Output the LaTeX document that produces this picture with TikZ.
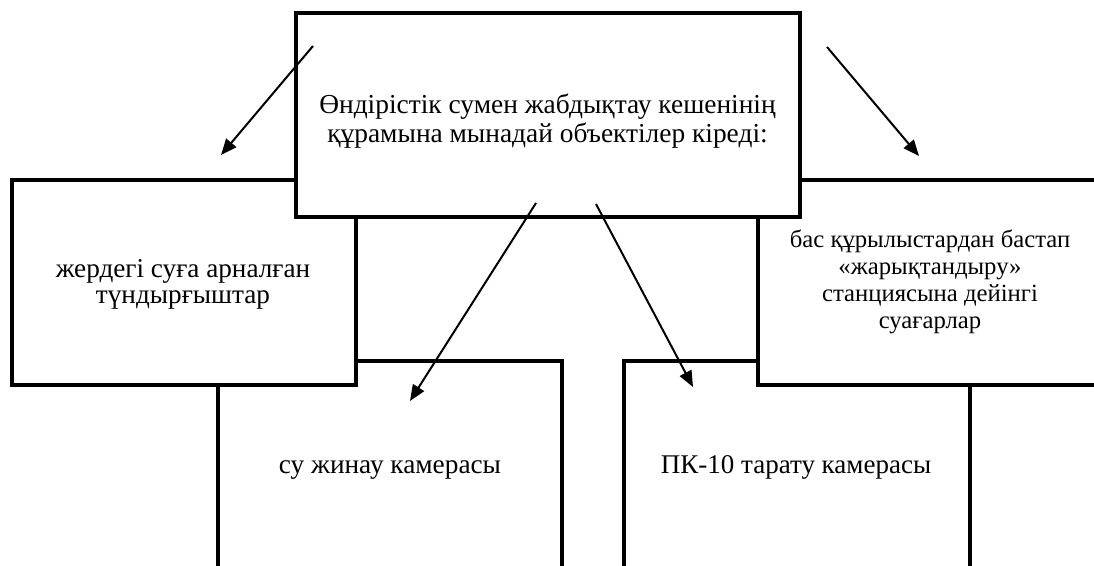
\documentclass[tikz,border=0pt]{standalone}
\usepackage{fontspec}
\setmainfont{Liberation Serif}
\usetikzlibrary{arrows.meta}
\newcommand{\linestack}[1]{\begin{tabular}{@{}c@{}}#1\end{tabular}}
\begin{document}
\begin{tikzpicture}[x=1pt,y=-1pt,
  box/.style={draw, fill=white, line width=4.5pt, inner sep=0pt},
  lbl/.style={inner sep=0pt, align=center},
  arr/.style={line width=2pt, -{Triangle[length=16pt,width=13pt]}}]
\useasboundingbox (0,0) rectangle (1094,565);
\clip (0,0) rectangle (1094,565);
% bottom boxes
\node[box, minimum width=344pt, minimum height=208pt] (bl) at (390,465) {};
\node[lbl, font=\fontsize{27.3}{29}\selectfont] (blt) at (390,467.2) {\linestack{су жинау камерасы}};
\node[box, minimum width=346pt, minimum height=208pt] (br) at (797,465) {};
\node[lbl, font=\fontsize{27}{29}\selectfont] (brt) at (796,467.2) {\linestack{ПК-10 тарату камерасы}};
% middle boxes
\node[box, minimum width=344pt, minimum height=205pt] (lb) at (184,282.5) {};
\node[lbl, font=\fontsize{27.2}{26.5}\selectfont] (lbt) at (183,285) {\linestack{жердегі суға арналған\\түндырғыштар}};
\node[box, minimum width=342pt, minimum height=205pt] (rb) at (929,282.5) {};
\node[lbl, font=\fontsize{24.7}{26.7}\selectfont] (rbt) at (930,282.7) {\linestack{бас құрылыстардан бастап\\«жарықтандыру»\\станциясына дейінгі\\суағарлар}};
% top box
\node[box, minimum width=504pt, minimum height=204pt] (top) at (548,115) {};
\node[lbl, font=\fontsize{27.4}{29}\selectfont] (topt) at (547.5,121.7) {\linestack{Өндірістік сумен жабдықтау кешенінің\\құрамына мынадай объектілер кіреді:}};
% arrows
\coordinate (s1) at (313,46);  \coordinate (e1) at (221,155);
\coordinate (s2) at (827,47);  \coordinate (e2) at (919,156);
\coordinate (s3) at (536,203); \coordinate (e3) at (410,401);
\coordinate (s4) at (596,204); \coordinate (e4) at (693,387);
\draw[arr] (s1) -- (e1);
\draw[arr] (s2) -- (e2);
\draw[arr] (s3) -- (e3);
\draw[arr] (s4) -- (e4);
\end{tikzpicture}
\end{document}
